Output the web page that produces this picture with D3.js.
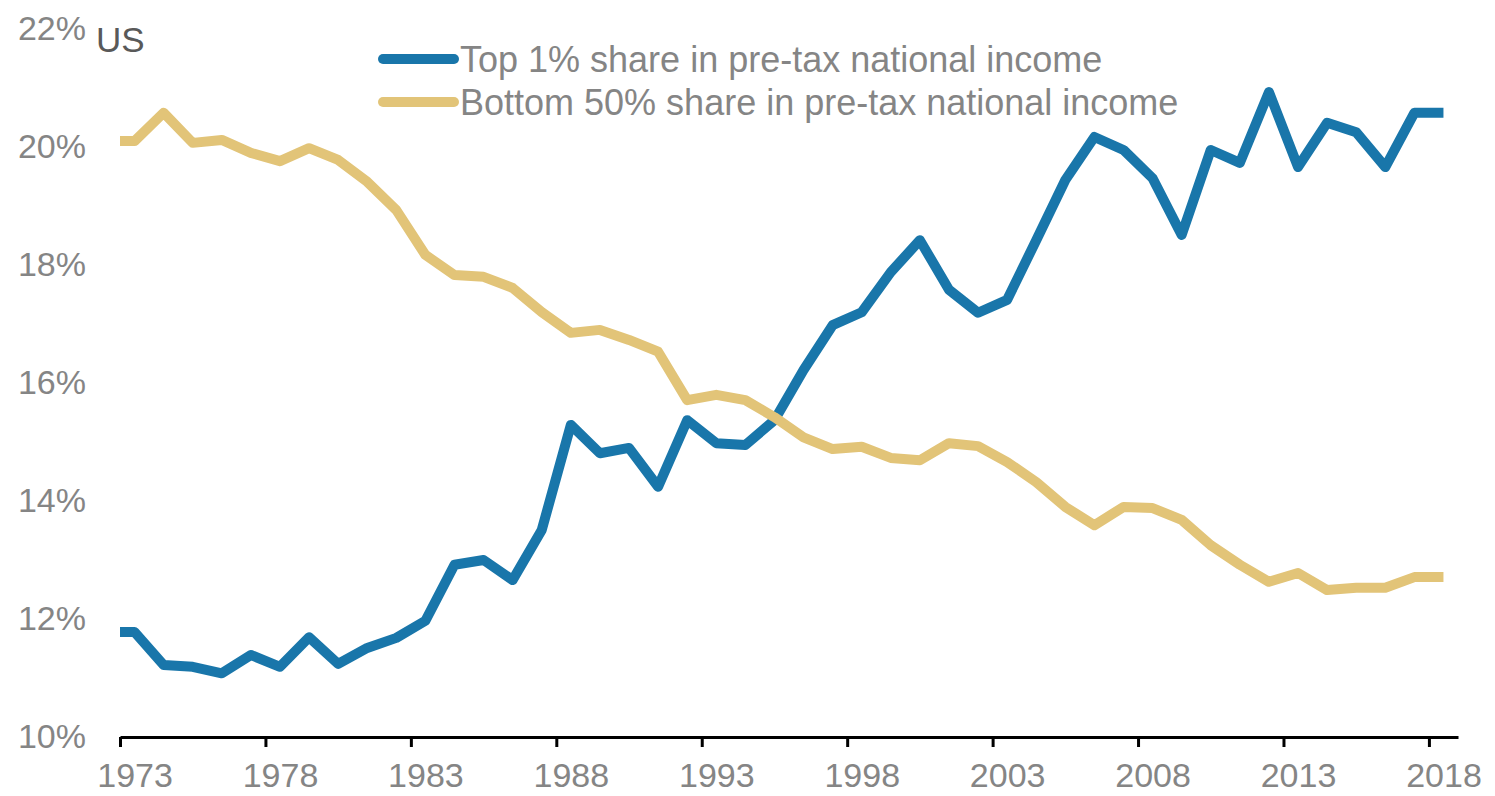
<!DOCTYPE html>
<html>
<head>
<meta charset="utf-8">
<script src="https://cdn.jsdelivr.net/npm/d3@7"></script>
<style>
  html, body { margin: 0; padding: 0; background: #ffffff; }
  svg { display: block; font-family: "Liberation Sans", Arial, sans-serif; }
</style>
</head>
<body>
<svg id="chart" width="1495" height="796"></svg>
<script>
// ---- Data ----
const years = d3.range(1973, 2019); // 1973 … 2018
const top1Share = [
  11.78, 11.22, 11.19, 11.08, 11.39, 11.19, 11.69, 11.24, 11.51, 11.68,
  11.97, 12.92, 13.00, 12.66, 13.51, 15.29, 14.81, 14.90, 14.24, 15.37,
  14.98, 14.95, 15.37, 16.22, 16.98, 17.20, 17.88, 18.42, 17.58, 17.19,
  17.41, 18.42, 19.44, 20.17, 19.95, 19.47, 18.51, 19.95, 19.73, 20.93,
  19.66, 20.41, 20.25, 19.66, 20.58, 20.58
];
const bottom50Share = [
  20.10, 20.58, 20.07, 20.12, 19.90, 19.76, 19.98, 19.78, 19.41, 18.93,
  18.17, 17.83, 17.80, 17.61, 17.20, 16.85, 16.90, 16.73, 16.53, 15.71,
  15.80, 15.71, 15.42, 15.08, 14.88, 14.92, 14.73, 14.69, 14.98, 14.93,
  14.66, 14.32, 13.90, 13.59, 13.90, 13.88, 13.68, 13.25, 12.92, 12.63,
  12.78, 12.49, 12.53, 12.53, 12.71, 12.71
];
const xTickYears = [1973, 1978, 1983, 1988, 1993, 1998, 2003, 2008, 2013, 2018];
const yTicks = [10, 12, 14, 16, 18, 20, 22];
const seriesNames = ["Top 1% share in pre-tax national income", "Bottom 50% share in pre-tax national income"];
const regionLabel = "US";

// ---- Styles ----
const BLUE = "#1976AA";
const GOLD = "#E2C478";
const TEXT = "#858585";

const svg = d3.select("#chart");

const x = d3.scaleLinear().domain([1973, 2019]).range([120, 1458]);
const y = d3.scaleLinear().domain([10, 22]).range([737, 29]);
const half = x(1973.5) - x(1973);

// X axis
const xAxis = d3.axisBottom(x)
  .tickValues(xTickYears)
  .tickFormat(d3.format("d"))
  .tickSize(10)
  .tickSizeOuter(0)
  .tickPadding(8);

const gx = svg.append("g").attr("transform", `translate(0,${y(10)})`).call(xAxis);
gx.select(".domain").attr("stroke", "#000").attr("stroke-width", 3);
gx.selectAll(".tick line").attr("stroke", "#000").attr("stroke-width", 3);
gx.selectAll(".tick text")
  .attr("fill", TEXT)
  .attr("font-size", 34)
  .attr("font-family", "'Liberation Sans', Arial, sans-serif")
  .attr("x", half)
  .attr("dy", "0.71em")
  .attr("y", 26);

// Y axis (labels only)
const yAxis = d3.axisLeft(y)
  .tickValues(yTicks)
  .tickFormat(d => d + "%")
  .tickSize(0)
  .tickPadding(0);
const gy = svg.append("g").attr("transform", "translate(86,0)").call(yAxis);
gy.select(".domain").remove();
gy.selectAll(".tick text")
  .attr("fill", TEXT)
  .attr("font-size", 34)
  .attr("font-family", "'Liberation Sans', Arial, sans-serif")
  .attr("dy", "0.3em");

// US label
svg.append("text")
  .attr("x", 96).attr("y", 52)
  .attr("fill", "#595959")
  .attr("font-size", 35)
  .text(regionLabel);

// Lines
function pts(values) {
  const arr = values.map((v, i) => ({ x: years[i] + 0.5, v }));
  arr.unshift({ x: years[0], v: values[0] });
  return arr;
}
const line = d3.line().x(d => x(d.x)).y(d => y(d.v));

svg.append("path")
  .datum(pts(top1Share))
  .attr("d", line)
  .attr("fill", "none")
  .attr("stroke", BLUE)
  .attr("stroke-width", 10)
  .attr("stroke-linejoin", "round");

svg.append("path")
  .datum(pts(bottom50Share))
  .attr("d", line)
  .attr("fill", "none")
  .attr("stroke", GOLD)
  .attr("stroke-width", 10)
  .attr("stroke-linejoin", "round");

// Legend
const legend = [
  { name: seriesNames[0], color: BLUE, cy: 59 },
  { name: seriesNames[1], color: GOLD, cy: 102 }
];
const lg = svg.append("g");
legend.forEach(l => {
  lg.append("line")
    .attr("x1", 383).attr("x2", 454)
    .attr("y1", l.cy).attr("y2", l.cy)
    .attr("stroke", l.color)
    .attr("stroke-width", 10)
    .attr("stroke-linecap", "round");
  lg.append("text")
    .attr("x", 460).attr("y", l.cy)
    .attr("dy", "0.36em")
    .attr("fill", TEXT)
    .attr("font-size", 36)
    .text(l.name);
});
</script>
</body>
</html>
